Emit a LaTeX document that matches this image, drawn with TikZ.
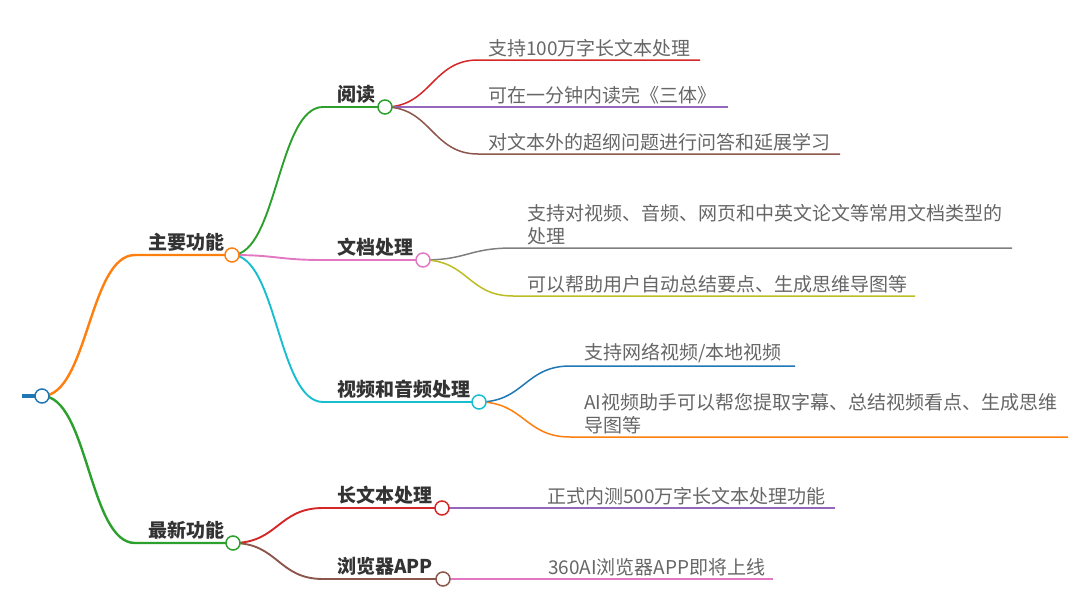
\documentclass[tikz,border=0pt]{standalone}
\usepackage{fontspec}
\newfontfamily\cjk{Noto Sans CJK SC}
\usetikzlibrary{positioning}
\definecolor{mmblue}{HTML}{1F77B4}
\definecolor{mmorange}{HTML}{FF7F0E}
\definecolor{mmgreen}{HTML}{2CA02C}
\definecolor{mmred}{HTML}{D62728}
\definecolor{mmpurple}{HTML}{9467BD}
\definecolor{mmbrown}{HTML}{8C564B}
\definecolor{mmpink}{HTML}{E377C2}
\definecolor{mmgray}{HTML}{7F7F7F}
\definecolor{mmolive}{HTML}{BCBD22}
\definecolor{mmcyan}{HTML}{17BECF}
\definecolor{labelgray}{HTML}{333333}
\definecolor{leafgray}{HTML}{666666}
\pgfdeclarelayer{background}
\pgfsetlayers{background,main}

\begin{document}
\begin{tikzpicture}[x=1pt, y=-1pt,
  dot/.style={circle, draw, fill=white, line width=1.5pt, minimum size=14pt, inner sep=0pt},
  lbl/.style={font=\cjk\bfseries\fontsize{19}{23}\selectfont, text=labelgray, anchor=south west, inner sep=0pt},
  leaf/.style={font=\cjk\fontsize{19}{23}\selectfont, text=leafgray, anchor=south west, inner sep=0pt, align=left},
  link1/.style={line width=2.4pt},
  link2/.style={line width=1.9pt},
  link3/.style={line width=1.5pt}]
\useasboundingbox (0,0) rectangle (1080,600);
% Circles
\node[dot, draw=mmblue] (root) at (42,396) {};
\node[dot, draw=mmorange] (main) at (232,255) {};
\node[dot, draw=mmgreen] (news) at (233,543) {};
\node[dot, draw=mmgreen] (read) at (385,107) {};
\node[dot, draw=mmpink] (doc) at (423,260) {};
\node[dot, draw=mmcyan] (video) at (479,402) {};
\node[dot, draw=mmred] (longtxt) at (442,508) {};
\node[dot, draw=mmbrown] (browser) at (443,579) {};
% Line starts and ends
\coordinate (stub) at (22,396);
\coordinate (main-in) at (135,255);
\coordinate (news-in) at (135,543);
\coordinate (read-in) at (323,107);
\coordinate (doc-in) at (323,260);
\coordinate (video-in) at (323,402);
\coordinate (longtxt-in) at (323,508);
\coordinate (browser-in) at (323,579);
\coordinate (r1-in) at (478,60);   \coordinate (r1-out) at (700,60);
\coordinate (r2-in) at (478,107);  \coordinate (r2-out) at (728,107);
\coordinate (r3-in) at (478,154);  \coordinate (r3-out) at (840,154);
\coordinate (d1-in) at (513,248);  \coordinate (d1-out) at (1012,248);
\coordinate (d2-in) at (513,296);  \coordinate (d2-out) at (915,296);
\coordinate (v1-in) at (570,366);  \coordinate (v1-out) at (795,366);
\coordinate (v2-in) at (570,437);  \coordinate (v2-out) at (1068,437);
\coordinate (l1-out) at (835,508);
\coordinate (b1-out) at (773,579);
% Labels
\node[lbl] (main-t) at (148,252) {主要功能};
\node[lbl] (news-t) at (148,540) {最新功能};
\node[lbl] (read-t) at (337,104) {阅读};
\node[lbl] (doc-t) at (337,257) {文档处理};
\node[lbl] (video-t) at (337,399) {视频和音频处理};
\node[lbl] (longtxt-t) at (337,505) {长文本处理};
\node[lbl] (browser-t) at (337,576) {浏览器APP};
% Leaves
\node[leaf] (r1) at (488,57) {支持100万字长文本处理};
\node[leaf] (r2) at (488,104) {可在一分钟内读完《三体》};
\node[leaf] (r3) at (488,151) {对文本外的超纲问题进行问答和延展学习};
\node[leaf] (d1) at (527,245) {支持对视频、音频、网页和中英文论文等常用文档类型的\\处理};
\node[leaf] (d2) at (527,293) {可以帮助用户自动总结要点、生成思维导图等};
\node[leaf] (v1) at (584,363) {支持网络视频/本地视频};
\node[leaf] (v2) at (584,434) {AI视频助手可以帮您提取字幕、总结视频看点、生成思维\\导图等};
\node[leaf] (l1) at (547,505) {正式内测500万字长文本处理功能};
\node[leaf] (b1) at (548,576) {360AI浏览器APP即将上线};
% Links
\begin{pgfonlayer}{background}
\draw[mmblue, line width=4pt] (stub) -- (root.center);
\draw[link1, mmorange] (root.center) .. controls +(46,0) and +(-46,0) .. (main-in) -- (main.center);
\draw[link1, mmgreen] (root.center) .. controls +(46,0) and +(-46,0) .. (news-in) -- (news.center);
\draw[link2, mmgreen] (main.center) .. controls +(45,0) and +(-45,0) .. (read-in) -- (read.center);
\draw[link2, mmpink] (main.center) .. controls +(45,0) and +(-45,0) .. (doc-in) -- (doc.center);
\draw[link2, mmcyan] (main.center) .. controls +(45,0) and +(-45,0) .. (video-in) -- (video.center);
\draw[link2, mmred] (news.center) .. controls +(45,0) and +(-45,0) .. (longtxt-in) -- (longtxt.center);
\draw[link2, mmbrown] (news.center) .. controls +(45,0) and +(-45,0) .. (browser-in) -- (browser.center);
\draw[link3, mmred] (read.center) .. controls +(46,0) and +(-46,0) .. (r1-in) -- (r1-out);
\draw[link3, mmpurple] (read.center) -- (r2-in) -- (r2-out);
\draw[link3, mmbrown] (read.center) .. controls +(46,0) and +(-46,0) .. (r3-in) -- (r3-out);
\draw[link3, mmgray] (doc.center) .. controls +(45,0) and +(-45,0) .. (d1-in) -- (d1-out);
\draw[link3, mmolive] (doc.center) .. controls +(45,0) and +(-45,0) .. (d2-in) -- (d2-out);
\draw[link3, mmblue] (video.center) .. controls +(45,0) and +(-45,0) .. (v1-in) -- (v1-out);
\draw[link3, mmorange] (video.center) .. controls +(45,0) and +(-45,0) .. (v2-in) -- (v2-out);
\draw[link3, mmpurple] (longtxt.center) -- (l1-out);
\draw[link3, mmpink] (browser.center) -- (b1-out);
\end{pgfonlayer}
\end{tikzpicture}
\end{document}
